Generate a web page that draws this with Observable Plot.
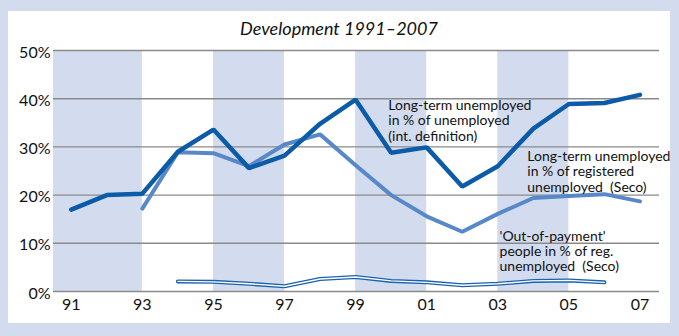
<!DOCTYPE html>
<html>
<head>
<meta charset="utf-8">
<script src="https://cdn.jsdelivr.net/npm/d3@7"></script>
<script src="https://cdn.jsdelivr.net/npm/@observablehq/plot@0.6"></script>
<style>
  html, body { margin: 0; padding: 0; }
  body { width: 679px; height: 336px; background: #d3dcee; position: relative; overflow: hidden; font-family: Lato, "Open Sans", sans-serif; }
  #panel { position: absolute; left: 8px; top: 11px; width: 662px; height: 312px; background: #fff; }
  #title { position: absolute; left: 8px; width: 662px; top: 17px; text-align: center; font-style: italic; font-size: 18px; color: #111; }
  #chart { position: absolute; left: 0; top: 0; }
</style>
</head>
<body>
<div id="panel"></div>
<div id="title">Development 1991–2007</div>
<div id="chart"></div>
<script>
// Long-term unemployed in % of unemployed (int. definition)
const yearsIntl = [1991,1992,1993,1994,1995,1996,1997,1998,1999,2000,2001,2002,2003,2004,2005,2006,2007];
const valuesIntl = [17.0,20.0,20.3,29.0,33.6,25.6,28.2,34.8,39.8,28.8,29.9,21.8,26.0,33.8,38.9,39.1,40.8];

// Long-term unemployed in % of registered unemployed (Seco)
const yearsSeco = [1993,1994,1995,1996,1997,1998,1999,2000,2001,2002,2003,2004,2005,2006,2007];
const valuesSeco = [17.2,28.9,28.7,26.0,30.5,32.6,26.2,20.0,15.6,12.4,16.1,19.4,19.8,20.2,18.7];

// 'Out-of-payment' people in % of reg. unemployed (Seco)
const yearsOut = [1994,1995,1996,1997,1998,1999,2000,2001,2002,2003,2004,2005,2006];
const valuesOut = [2.1,2.0,1.6,1.1,2.6,3.0,2.2,1.9,1.3,1.6,2.2,2.3,1.9];

// shaded bands (years)
const bandStart = [1990.5, 1995, 1999, 2003];
const bandEnd = [1993, 1997, 2001, 2005];

const xTicks = [1991,1993,1995,1997,1999,2001,2003,2005,2007];
const xTickLabels = ["91","93","95","97","99","01","03","05","07"];
const yTicks = [0,10,20,30,40,50];
const yTickLabels = ["0%","10%","20%","30%","40%","50%"];

const labelTexts = [
  "Long-term unemployed\nin % of unemployed\n(int. definition)",
  "Long-term unemployed\nin % of registered\nunemployed  (Seco)",
  "'Out-of-payment'\npeople in % of reg.\nunemployed  (Seco)"
];
const labelX = [1999.92, 2003.83, 2003.05];
const labelY = [35.5, 24.9, 8.4];

const intl = yearsIntl.map((y, i) => ({year: y, value: valuesIntl[i]}));
const seco = yearsSeco.map((y, i) => ({year: y, value: valuesSeco[i]}));
const outp = yearsOut.map((y, i) => ({year: y, value: valuesOut[i]}));
const bands = bandStart.map((s, i) => ({x1: s, x2: bandEnd[i]}));
const labels = labelTexts.map((t, i) => ({text: t, x: labelX[i], y: labelY[i]}));

const chart = Plot.plot({
  width: 679,
  height: 336,
  marginLeft: 53,
  marginRight: 20,
  marginTop: 50,
  marginBottom: 45,
  style: {background: "transparent", fontFamily: "Lato, 'Open Sans', sans-serif", color: "#111"},
  x: {domain: [1990.5, 2007.55], label: null},
  y: {domain: [0, 50], label: null},
  marks: [
    Plot.rect(bands, {x1: "x1", x2: "x2", y1: 0, y2: 50, fill: "#d3dcee"}),
    Plot.ruleY(yTicks, {stroke: "#8a8a8a", strokeWidth: 1.4}),
    Plot.axisY(yTicks, {tickSize: 0, tickPadding: 3, fontSize: 16, dy: 2, tickFormat: (d) => yTickLabels[yTicks.indexOf(d)], label: null}),
    Plot.axisX(xTicks, {tickSize: 0, tickPadding: 7, fontSize: 16, tickFormat: (d) => xTickLabels[xTicks.indexOf(d)], label: null}),
    Plot.line(outp, {x: "year", y: "value", stroke: "#1a62ae", strokeWidth: 4, curve: "linear"}),
    Plot.line(outp, {x: "year", y: "value", stroke: "#ffffff", strokeWidth: 1.4, curve: "linear"}),
    Plot.line(seco, {x: "year", y: "value", stroke: "#5888c8", strokeWidth: 4, strokeLinejoin: "miter"}),
    Plot.line(intl, {x: "year", y: "value", stroke: "#0b5ba8", strokeWidth: 4.5, strokeLinejoin: "miter"}),
    Plot.text(labels, {x: "x", y: "y", text: "text", textAnchor: "start", lineAnchor: "middle", fontSize: 14, lineHeight: 1.1, fill: "#111"})
  ]
});
document.getElementById("chart").appendChild(chart);
</script>
</body>
</html>
